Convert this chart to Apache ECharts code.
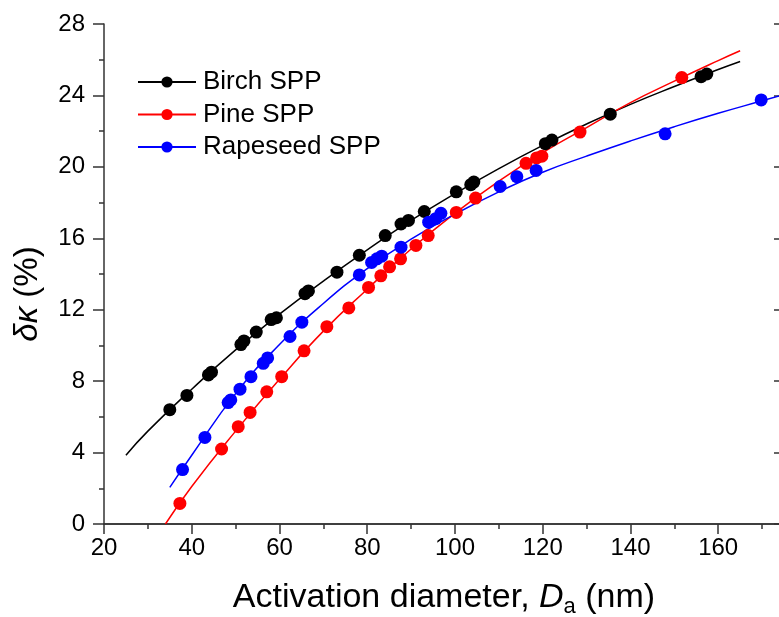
<!DOCTYPE html>
<html>
<head>
<meta charset="utf-8">
<script src="https://cdn.jsdelivr.net/npm/echarts@6/dist/echarts.min.js"></script>
<style>
  html, body { margin: 0; padding: 0; background: #fff; }
  #chart { width: 779px; height: 617px; }
</style>
</head>
<body>
<div id="chart"></div>
<script>
// measured points
const birchX = [35.0, 38.9, 43.8, 44.5, 51.2, 51.9, 54.7, 58.1, 59.3, 65.8, 66.6, 73.1, 78.2, 84.1, 87.7, 89.4, 93.0, 100.3, 103.6, 104.3, 120.6, 122.1, 135.4, 156.1, 157.4];
const birchY = [6.4, 7.2, 8.35, 8.5, 10.05, 10.25, 10.75, 11.45, 11.55, 12.9, 13.05, 14.1, 15.05, 16.15, 16.8, 17.0, 17.5, 18.6, 19.0, 19.15, 21.3, 21.5, 22.95, 25.05, 25.2];

const pineX = [37.3, 46.8, 50.6, 53.3, 57.1, 60.5, 65.6, 70.8, 75.8, 80.3, 83.1, 85.1, 87.6, 91.1, 93.9, 100.3, 104.7, 116.2, 118.6, 119.8, 128.5, 151.7];
const pineY = [1.15, 4.2, 5.45, 6.25, 7.4, 8.25, 9.7, 11.05, 12.1, 13.25, 13.9, 14.4, 14.85, 15.6, 16.15, 17.45, 18.25, 20.2, 20.5, 20.6, 21.95, 25.0];

const rapeX = [37.9, 43.0, 48.3, 48.9, 51.0, 53.5, 56.3, 57.3, 62.4, 65.1, 78.2, 81.0, 82.2, 83.3, 87.7, 94.0, 95.6, 96.8, 110.3, 114.1, 118.5, 147.9, 169.8];
const rapeY = [3.05, 4.85, 6.8, 6.95, 7.55, 8.25, 9.0, 9.3, 10.5, 11.3, 13.95, 14.65, 14.85, 15.0, 15.5, 16.9, 17.1, 17.4, 18.9, 19.45, 19.8, 21.85, 23.75];

// fitted curves
const birchFitX = [25, 30, 40, 50, 60, 70, 80, 90, 100, 110, 120, 130, 140, 150, 160, 165];
const birchFitY = [3.85, 5.2, 7.55, 9.75, 11.75, 13.6, 15.35, 17.0, 18.5, 19.9, 21.2, 22.4, 23.5, 24.5, 25.45, 25.9];

const pineFitX = [34, 40, 50, 60, 70, 80, 90, 100, 110, 120, 130, 140, 150, 160, 165];
const pineFitY = [0, 2.1, 5.2, 8.1, 10.8, 13.15, 15.4, 17.4, 19.2, 20.8, 22.2, 23.6, 24.8, 25.95, 26.5];

const rapeFitX = [35, 40, 50, 60, 70, 80, 90, 100, 110, 120, 130, 140, 150, 160, 170, 175];
const rapeFitY = [2.05, 3.85, 7.3, 10.05, 12.35, 14.3, 15.95, 17.35, 18.6, 19.7, 20.6, 21.45, 22.25, 23.0, 23.7, 24.05];

const names = ["Birch SPP", "Pine SPP", "Rapeseed SPP"];
const colors = ["#000000", "#ff0000", "#0000ff"];

const xTicks = [20, 175, 20];
const yTicks = [0, 28, 4];

const font = "'Liberation Sans', Arial, sans-serif";
const zip = (xs, ys) => xs.map((x, i) => [x, ys[i]]);

const points = [zip(birchX, birchY), zip(pineX, pineY), zip(rapeX, rapeY)];
const fits = [zip(birchFitX, birchFitY), zip(pineFitX, pineFitY), zip(rapeFitX, rapeFitY)];

const axisLine = { show: true, lineStyle: { color: "#333", width: 1.5 } };
const tickLine = { color: "#333", width: 1.5 };

const series = [];
names.forEach((name, i) => {
  series.push({
    name: name,
    type: "line",
    data: fits[i],
    smooth: true,
    showSymbol: false,
    symbol: "circle",
    symbolSize: 12,
    itemStyle: { color: colors[i], opacity: 1 },
    lineStyle: { color: colors[i], width: 1.5 },
    z: 2,
  });
  series.push({
    name: name,
    type: "scatter",
    data: points[i],
    symbol: "circle",
    symbolSize: 13,
    itemStyle: { color: colors[i], opacity: 1 },
    z: 3,
  });
});

const chart = echarts.init(document.getElementById("chart"));

chart.setOption({
  animation: false,
  backgroundColor: "#fff",
  textStyle: { fontFamily: font },
  grid: { left: 104, top: 24, width: 680, height: 500, outerBoundsMode: "none", containLabel: false },
  legend: {
    data: names,
    orient: "vertical",
    left: 132,
    top: 64,
    itemWidth: 58,
    itemHeight: 14,
    itemGap: 6.5,
    textStyle: { fontSize: 26, lineHeight: 26, color: "#000", fontFamily: font, padding: [0, 0, 0, 2] },
  },
  xAxis: [
    {
      type: "value",
      position: "bottom",
      min: xTicks[0], max: xTicks[1], interval: xTicks[2],
      axisLine: axisLine,
      axisTick: { show: true, inside: false, length: 10, lineStyle: tickLine },
      minorTick: { show: true, splitNumber: 2, length: 5, lineStyle: tickLine },
      splitLine: { show: false },
      axisLabel: { fontSize: 24, color: "#000", margin: 12, fontFamily: font,
        showMaxLabel: false },
      name: "{n|Activation diameter, }{i|D}{s|a}{n| (nm)}",
      nameLocation: "middle",
      nameGap: 54,
      nameTextStyle: {
        rich: {
          n: { fontSize: 34, color: "#000", fontFamily: font },
          i: { fontSize: 34, color: "#000", fontFamily: font, fontStyle: "italic" },
          s: { fontSize: 22, color: "#000", fontFamily: font, padding: [18, 0, 0, 0] },
        },
      },
    },
    {
      type: "value",
      position: "top",
      min: xTicks[0], max: xTicks[1], interval: xTicks[2],
      axisLine: axisLine,
      axisTick: { show: true, inside: true, length: 9, lineStyle: tickLine },
      minorTick: { show: true, splitNumber: 2, length: 5, lineStyle: tickLine },
      splitLine: { show: false },
      axisLabel: { show: false },
    },
  ],
  yAxis: [
    {
      type: "value",
      position: "left",
      min: yTicks[0], max: yTicks[1], interval: yTicks[2],
      axisLine: axisLine,
      axisTick: { show: true, inside: false, length: 11, lineStyle: tickLine },
      minorTick: { show: true, splitNumber: 2, length: 5, lineStyle: tickLine },
      splitLine: { show: false },
      axisLabel: { fontSize: 24, color: "#000", margin: 19, fontFamily: font },
      name: "{i|δκ}{n| (%)}",
      nameLocation: "middle",
      nameGap: 60,
      nameTextStyle: {
        padding: [0, 40, 0, 0],
        rich: {
          n: { fontSize: 33, color: "#000", fontFamily: font },
          i: { fontSize: 33, color: "#000", fontFamily: font, fontStyle: "italic" },
        },
      },
    },
    {
      type: "value",
      position: "right",
      min: yTicks[0], max: yTicks[1], interval: yTicks[2],
      axisLine: axisLine,
      axisTick: { show: true, inside: true, length: 10, lineStyle: tickLine },
      minorTick: { show: true, splitNumber: 2, length: 5, lineStyle: tickLine },
      splitLine: { show: false },
      axisLabel: { show: false },
    },
  ],
  series: series,
});

window.addEventListener("resize", () => chart.resize());
</script>
</body>
</html>
